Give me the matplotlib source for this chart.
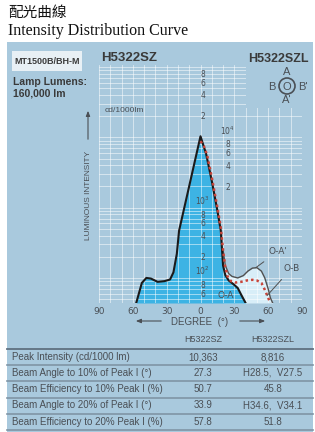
import numpy as np
import matplotlib.pyplot as plt
from matplotlib.patches import Rectangle, Circle
from matplotlib.ticker import LogLocator, NullFormatter

# H5322SZ, plane O-A (cd/1000lm)
sz_angle = [-57, -52, -48, -44, -38, -32, -27, -24, -21, -19, -15, -10, -5, 0,
            5, 10, 15, 18, 20, 22, 25, 29, 33, 36, 40]
sz_value = [44, 85, 100, 98, 88, 90, 95, 120, 220, 470, 900, 2030, 4590, 10363,
            5800, 2400, 900, 470, 150, 110, 92, 82, 72, 58, 44]

# H5322SZL, plane O-B (dotted)
szl_b_angle = [0, 3, 6, 10, 15, 18, 20, 22, 24, 27, 31, 36, 41, 46, 50, 54, 57, 60, 62]
szl_b_value = [8816, 7500, 5500, 2700, 1000, 520, 250, 140, 105, 90, 86, 88, 92, 94, 92, 85, 68, 52, 44]

# H5322SZL, plane O-A'
szl_a_angle = [20, 22, 25, 28, 33, 38, 42, 46, 50, 54, 57, 60, 62, 64]
szl_a_value = [250, 150, 115, 105, 100, 108, 125, 138, 140, 125, 100, 70, 52, 44]

deg_ticks = [-90, -60, -30, 0, 30, 60, 90]
deg_labels = ["90", "60", "30", "0", "30", "60", "90"]

rows = ["Peak Intensity (cd/1000 lm)",
        "Beam Angle to 10% of Peak I (°)",
        "Beam Efficiency to 10% Peak I (%)",
        "Beam Angle to 20% of Peak I (°)",
        "Beam Efficiency to 20% Peak I (%)"]
col_sz = ["10,363", "27.3", "50.7", "33.9", "57.8"]
col_szl = ["8,816", "H28.5,  V27.5", "45.8", "H34.6,  V34.1", "51.8"]

panel = "#a9c9dd"
blue = "#3db3e4"
pale = "#d8eef8"
txt = "#4a4f55"
narrow = ["Liberation Sans Narrow", "Liberation Sans", "DejaVu Sans"]

W, H = 315, 432
fig = plt.figure(figsize=(3.15, 4.32), dpi=100)

# background layer (pixel coords)
bg = fig.add_axes([0, 0, 1, 1], zorder=0)
bg.set_xlim(0, W)
bg.set_ylim(H, 0)
bg.axis("off")
bg.add_patch(Rectangle((7, 42), 306, 390, color=panel, lw=0))

# chart
ax = fig.add_axes([99 / W, 1 - 303 / H, 203 / W, (303 - 65) / H], zorder=1)
ax.set_facecolor(panel)
ax.set_xlim(-90, 90)
ax.set_yscale("log")
ax.set_ylim(44, 1.07e5)
ax.set_xticks(deg_ticks, deg_labels)
ax.set_xticks(np.arange(-90, 91, 10), minor=True)
ax.yaxis.set_minor_locator(LogLocator(subs=np.arange(2, 10)))
ax.yaxis.set_minor_formatter(NullFormatter())
ax.set_yticklabels([])
ax.tick_params(which="both", length=0)
ax.tick_params(axis="x", pad=3, labelsize=6.5, labelcolor=txt)
ax.set_axisbelow(False)
ax.grid(which="both", color="white", lw=0.6, alpha=0.6)
for s in ax.spines.values():
    s.set_visible(False)

ax.fill_between(szl_a_angle, 44, szl_a_value, color=pale, lw=0, zorder=1)
ax.plot(szl_a_angle, szl_a_value, color="#505050", lw=1.0, zorder=3)
ax.fill_between(sz_angle, 44, sz_value, color=blue, lw=0, zorder=2)
ax.plot(sz_angle, sz_value, color="#1a1a1a", lw=1.5, zorder=3)
ax.plot(szl_b_angle, szl_b_value, color="#c8453a", lw=1.8, ls=(0, (1, 1.2)), zorder=4)

# scale labels
for v, s in [(8e4, "8"), (6e4, "6"), (4e4, "4"), (2e4, "2"),
             (8e2, "8"), (6e2, "6"), (4e2, "4"), (2e2, "2"),
             (8e1, "8"), (6e1, "6")]:
    ax.annotate(s, (2, v), xytext=(0, -0.5), textcoords="offset points",
                ha="center", va="center", fontsize=5.5, color=txt, zorder=5)
for v, s in [(8e3, "8"), (6e3, "6"), (4e3, "4"), (2e3, "2")]:
    ax.annotate(s, (24, v), xytext=(0, -0.5), textcoords="offset points",
                ha="center", va="center", fontsize=5.5, color=txt, zorder=5)
for x, v, s in [(2, 1e3, "10$^3$"), (2, 1e2, "10$^2$"), (24, 1e4, "10$^4$")]:
    ax.annotate(s, (x, v), xytext=(0, 0.5), textcoords="offset points",
                ha="center", va="bottom", fontsize=5.5, color=txt, zorder=5)

ax.annotate("O-A'", xy=(49, 140), xytext=(69, 240), fontsize=6.5, color=txt,
            ha="center", va="center", zorder=6,
            arrowprops=dict(arrowstyle="-", color="#505050", lw=0.7, shrinkB=0, shrinkA=4))
ax.annotate("O-B", xy=(59, 56), xytext=(81, 138), fontsize=6.5, color=txt,
            ha="center", va="center", zorder=6,
            arrowprops=dict(arrowstyle="-", color="#505050", lw=0.7, shrinkB=0, shrinkA=4))
ax.text(22, 57, "O-A", fontsize=6.5, color=txt, ha="center", va="center", zorder=6)

# overlay layer
top = fig.add_axes([0, 0, 1, 1], zorder=2)
top.set_xlim(0, W)
top.set_ylim(H, 0)
top.axis("off")
top.patch.set_alpha(0)

top.text(8, 13, "配光曲線", family=["Noto Sans CJK TC", "DejaVu Sans"], fontsize=10.5,
         va="center", color="#111111")
top.text(8, 31, "Intensity Distribution Curve", family="Liberation Serif", fontsize=11.5,
         va="center", color="#111111")

top.add_patch(Rectangle((12, 51), 70, 20, color="#e8f0f5", lw=0))
top.text(47, 61.5, "MT1500B/BH-M", family=narrow, fontsize=6.5, weight="bold",
         ha="center", va="center", color="#3a3a3a")
top.text(13, 82, "Lamp Lumens:", family=narrow, fontsize=7.5, weight="bold",
         va="center", color="#3a3a3a")
top.text(13, 93, "160,000 lm", family=narrow, fontsize=7.5, weight="bold",
         va="center", color="#3a3a3a")
top.text(101, 58, "H5322SZ", family=narrow, fontsize=9.5, weight="bold",
         va="center", color="#3a3a3a")

# cover for upper right legend area
top.add_patch(Rectangle((246, 42), 67, 66, color=panel, lw=0))
top.text(309, 59, "H5322SZL", family=narrow, fontsize=9, weight="bold",
         ha="right", va="center", color="#3a3a3a")
top.add_patch(Circle((287, 86), 8, fc="none", ec=txt, lw=1.2))
for x, y, s in [(287, 72, "A"), (287, 86.5, "O"), (272, 86.5, "B"), (303, 86.5, "B'"),
                (287, 100, "A'")]:
    top.text(x, y, s, family=narrow, fontsize=8, ha="center", va="center", color=txt)

top.text(105, 111, "cd/1000lm", family=narrow, fontsize=6, va="center", color=txt)
top.text(88, 195, "LUMINOUS INTENSITY", family=narrow, fontsize=6, rotation=90,
         ha="center", va="center", color=txt)
top.annotate("", xy=(88, 108), xytext=(88, 142),
             arrowprops=dict(arrowstyle="-|>,head_width=0.12,head_length=0.3",
                             color=txt, lw=0.8))

top.text(200, 322, "DEGREE  (°)", family=narrow, fontsize=7, ha="center", va="center",
         color=txt)
top.annotate("", xy=(133, 321), xytext=(164, 321),
             arrowprops=dict(arrowstyle="-|>,head_width=0.12,head_length=0.3",
                             color=txt, lw=0.8))
top.annotate("", xy=(268, 321), xytext=(237, 321),
             arrowprops=dict(arrowstyle="-|>,head_width=0.12,head_length=0.3",
                             color=txt, lw=0.8))

# table
top.text(203, 339, "H5322SZ", family=narrow, fontsize=6.5, ha="center", va="center",
         color=txt)
top.text(273, 339, "H5322SZL", family=narrow, fontsize=6.5, ha="center", va="center",
         color=txt)
top.plot([7, 313], [349, 349], color="#5f7180", lw=1.3)
row_y = [357, 372.5, 389, 405.5, 422]
line_y = [364.5, 381, 397.5, 414, 430]
for i, r in enumerate(rows):
    top.text(12, row_y[i], r, family=narrow, fontsize=7, va="center", color=txt)
    top.text(203, row_y[i], col_sz[i], family=narrow, fontsize=7, ha="center",
             va="center", color=txt)
    top.text(273, row_y[i], col_szl[i], family=narrow, fontsize=7, ha="center",
             va="center", color=txt)
    top.plot([7, 313], [line_y[i], line_y[i]], color="#7f95a5", lw=1.2)

fig.savefig("out.png", dpi=100)
